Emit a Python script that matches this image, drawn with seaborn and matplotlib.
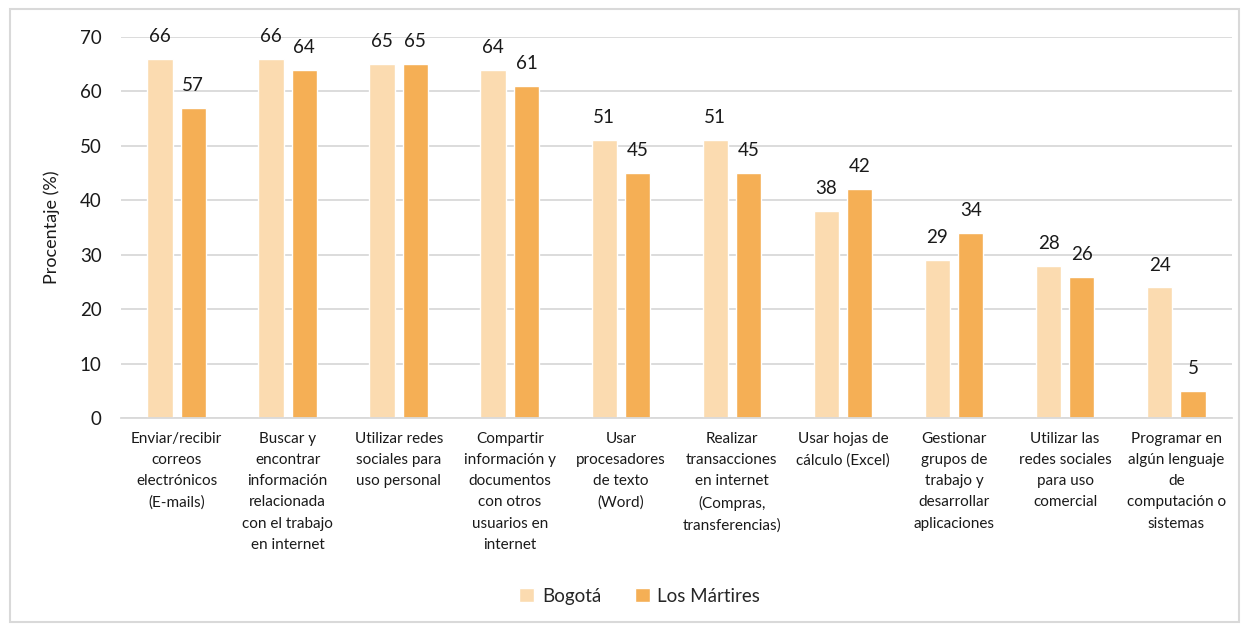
import matplotlib
matplotlib.use("Agg")
import matplotlib.pyplot as plt
import seaborn as sns
import pandas as pd
from matplotlib.patches import Rectangle

categorias = [
    "Enviar/recibir\ncorreos\nelectrónicos\n(E-mails)",
    "Buscar y\nencontrar\ninformación\nrelacionada\ncon el trabajo\nen internet",
    "Utilizar redes\nsociales para\nuso personal",
    "Compartir\ninformación y\ndocumentos\ncon otros\nusuarios en\ninternet",
    "Usar\nprocesadores\nde texto\n(Word)",
    "Realizar\ntransacciones\nen internet\n(Compras,\ntransferencias)",
    "Usar hojas de\ncálculo (Excel)",
    "Gestionar\ngrupos de\ntrabajo y\ndesarrollar\naplicaciones",
    "Utilizar las\nredes sociales\npara uso\ncomercial",
    "Programar en\nalgún lenguaje\nde\ncomputación o\nsistemas",
]
bogota = [66, 66, 65, 64, 51, 51, 38, 29, 28, 24]
martires = [57, 64, 65, 61, 45, 45, 42, 34, 26, 5]
series = ["Bogotá", "Los Mártires"]
colores = ["#FBDBB0", "#F5AF55"]

df = pd.DataFrame({
    "categoria": categorias * 2,
    "valor": bogota + martires,
    "serie": [series[0]] * len(bogota) + [series[1]] * len(martires),
})

sns.set_theme(style="white")
plt.rcParams["font.family"] = ["Lato", "DejaVu Sans"]

fig = plt.figure(figsize=(12.48, 6.25), dpi=100)
ax = fig.add_axes([0.097, 0.331, 0.890, 0.610])

sns.barplot(
    data=df,
    x="categoria",
    y="valor",
    hue="serie",
    palette=colores,
    saturation=1,
    width=0.6,
    gap=0.24,
    ax=ax,
)

for cont in ax.containers:
    ax.bar_label(cont, fmt="%d", padding=10, fontsize=13.5, color="#1a1a1a")

ax.set_ylim(0, 70)
ax.set_yticks(range(0, 71, 10))
ax.set_xlim(-0.5, len(categorias) - 0.5)
ax.yaxis.grid(True, color="#D9D9D9", linewidth=1.3)
ax.set_axisbelow(True)
for s in ["top", "right", "left"]:
    ax.spines[s].set_visible(False)
ax.spines["bottom"].set_color("#D9D9D9")
ax.spines["bottom"].set_linewidth(1.3)
ax.tick_params(axis="y", length=0, labelsize=13.5, pad=14, colors="#1a1a1a")
ax.tick_params(axis="x", length=0, labelsize=11, pad=10, colors="#1a1a1a")
for t in ax.get_xticklabels():
    t.set_linespacing(1.65)
    t.set_verticalalignment("top")
ax.set_xlabel("")
ax.set_ylabel("Procentaje (%)", fontsize=13, color="#1a1a1a", labelpad=14)

ax.legend(
    loc="center",
    bbox_to_anchor=(0.467, -0.467),
    ncol=2,
    frameon=False,
    fontsize=13.5,
    handlelength=0.8,
    handleheight=0.8,
    handletextpad=0.4,
    columnspacing=1.8,
)

fig.patches.append(Rectangle((0.008, 0.005), 0.985, 0.98, transform=fig.transFigure,
                             fill=False, edgecolor="#D9D9D9", linewidth=1.5))

fig.savefig("out.png", dpi=100)
